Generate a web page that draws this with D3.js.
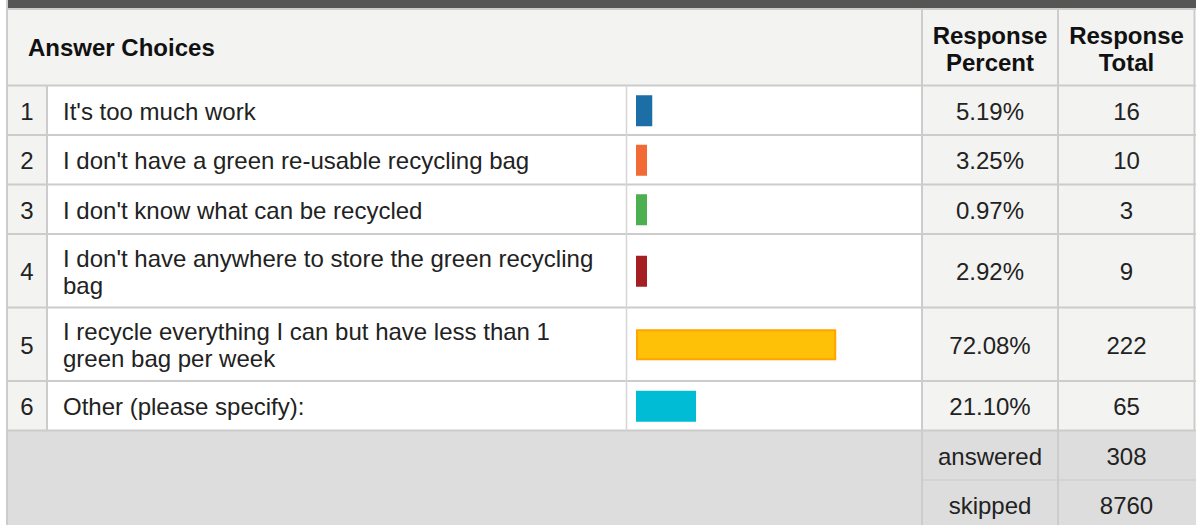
<!DOCTYPE html>
<html>
<head>
<meta charset="utf-8">
<script src="https://cdn.jsdelivr.net/npm/d3@7"></script>
<style>
  body { margin: 0; background: #fff; }
  svg { display: block; font-family: "Liberation Sans", Arial, sans-serif; }
</style>
</head>
<body>
<svg class="survey" width="1196" height="525"></svg>
<script>
var choices = [
  "It's too much work",
  "I don't have a green re-usable recycling bag",
  "I don't know what can be recycled",
  "I don't have anywhere to store the green recycling bag",
  "I recycle everything I can but have less than 1 green bag per week",
  "Other (please specify):"
];
var percents = [5.19, 3.25, 0.97, 2.92, 72.08, 21.10];
var totals = [16, 10, 3, 9, 222, 65];
var barColors = ["#1c6ea7", "#f26a35", "#4caf50", "#a51f22", "#fec107", "#00bcd4"];
var barStrokes = ["#1c6ea7", "#f26a35", "#4caf50", "#a51f22", "#ffa400", "#00bcd4"];
var footerLabels = ["answered", "skipped"];
var footerValues = [308, 8760];

var svg = d3.select("svg.survey"),
    col = {left: 7, num: 47, text: 627, bar: 922, pct: 1058, right: 1195},
    headerTop = 9, headerBottom = 85.5,
    lineH = 27, textMax = 550, base = 9.4,
    grid = "#cccccc", soft = "#f3f3f1", foot = "#dddddd";

var fmtPct = function (v) { return d3.format(".2f")(v) + "%"; };

// wrap labels by measuring words
var probe = svg.append("text").style("font-size", "24px").attr("visibility", "hidden");
var wrapped = choices.map(function (label) {
  var words = label.split(" "), lines = [], cur = "";
  words.forEach(function (w) {
    var test = cur ? cur + " " + w : w;
    probe.text(test);
    if (cur && probe.node().getComputedTextLength() > textMax) { lines.push(cur); cur = w; }
    else cur = test;
  });
  lines.push(cur);
  return lines;
});
probe.remove();

// row positions from line counts
var rows = [], y0 = headerBottom;
wrapped.forEach(function (lines, i) {
  var h = 25.5 + 24 * lines.length;
  rows.push({i: i, top: y0, h: h, lines: lines});
  y0 += h;
});
var footTop = y0, footH = 49.5;

var x = d3.scaleLinear().domain([0, 100]).range([0, 275]);

// top dark strip
svg.append("rect").attr("x", col.left + 1).attr("y", 0).attr("width", 1196 - col.left).attr("height", 8).attr("fill", "#555555");

// header
svg.append("rect").attr("x", col.left).attr("y", headerTop).attr("width", col.right - col.left).attr("height", headerBottom - headerTop).attr("fill", soft);

svg.append("text").attr("x", 28).attr("y", 55.5)
    .style("font-size", "24px").style("font-weight", "bold").attr("fill", "#111").text("Answer Choices");

[["Response", "Percent"], ["Response", "Total"]].forEach(function (lines, k) {
  var cx = k === 0 ? (col.bar + col.pct) / 2 : (col.pct + col.right) / 2;
  var t = svg.append("text").attr("text-anchor", "middle")
      .style("font-size", "24px").style("font-weight", "bold").attr("fill", "#111");
  lines.forEach(function (s, j) {
    t.append("tspan").attr("x", cx).attr("y", 43.5 + j * lineH).text(s);
  });
});

// body rows
var row = svg.selectAll(".row").data(rows).enter().append("g")
    .attr("class", "row")
    .attr("transform", function (d) { return "translate(0," + d.top + ")"; });

row.append("rect").attr("x", col.left).attr("width", col.num - col.left)
    .attr("height", function (d) { return d.h; }).attr("fill", soft);
row.append("rect").attr("x", col.num).attr("width", col.bar - col.num)
    .attr("height", function (d) { return d.h; }).attr("fill", "#fff");
row.append("rect").attr("x", col.bar).attr("width", col.right - col.bar)
    .attr("height", function (d) { return d.h; }).attr("fill", soft);

row.append("text").attr("x", (col.left + col.num) / 2).attr("text-anchor", "middle")
    .attr("y", function (d) { return d.h / 2 + base; })
    .style("font-size", "24px").attr("fill", "#222")
    .text(function (d) { return d.i + 1; });

row.append("text").style("font-size", "24px").attr("fill", "#222")
  .each(function (d) {
    var t = d3.select(this), first = d.h / 2 + base - (d.lines.length - 1) * lineH / 2;
    d.lines.forEach(function (s, j) {
      t.append("tspan").attr("x", 63).attr("y", first + j * lineH).text(s);
    });
  });

row.append("rect")
    .attr("x", col.text + 10)
    .attr("y", function (d) { return d.h / 2 - 14; })
    .attr("width", function (d) { return Math.max(9, x(percents[d.i])); })
    .attr("height", 29)
    .attr("fill", function (d) { return barColors[d.i]; })
    .attr("stroke", function (d) { return barStrokes[d.i]; })
    .attr("stroke-width", 2);

row.append("text").attr("x", (col.bar + col.pct) / 2).attr("text-anchor", "middle")
    .attr("y", function (d) { return d.h / 2 + base; })
    .style("font-size", "24px").attr("fill", "#222")
    .text(function (d) { return fmtPct(percents[d.i]); });

row.append("text").attr("x", (col.pct + col.right) / 2).attr("text-anchor", "middle")
    .attr("y", function (d) { return d.h / 2 + base; })
    .style("font-size", "24px").attr("fill", "#222")
    .text(function (d) { return totals[d.i]; });

// footer
svg.append("rect").attr("x", col.left).attr("y", footTop).attr("width", 1196 - col.left)
    .attr("height", 525 - footTop).attr("fill", foot);

footerLabels.forEach(function (lab, k) {
  var cy = footTop + k * footH + footH / 2 + base;
  svg.append("text").attr("x", (col.bar + col.pct) / 2).attr("y", cy).attr("text-anchor", "middle")
      .style("font-size", "24px").attr("fill", "#222").text(lab);
  svg.append("text").attr("x", (col.pct + col.right) / 2).attr("y", cy).attr("text-anchor", "middle")
      .style("font-size", "24px").attr("fill", "#222").text(footerValues[k]);
});

// grid lines
var hline = function (y, x1, x2, w, c) {
  svg.append("line").attr("x1", x1).attr("x2", x2).attr("y1", y).attr("y2", y)
      .attr("stroke", c || grid).attr("stroke-width", w || 1.5);
};
var vline = function (xp, y1, y2, w, c) {
  svg.append("line").attr("x1", xp).attr("x2", xp).attr("y1", y1).attr("y2", y2)
      .attr("stroke", c || grid).attr("stroke-width", w || 1.5);
};

hline(headerTop, col.left, 1196, 2);
hline(headerBottom, col.left, 1196, 2);
rows.forEach(function (d) { hline(d.top + d.h, col.left, 1196, 2); });
hline(footTop + footH, col.bar, 1196, 1.5, "#cfcfcf");

vline(col.left, 0, 525, 2);
vline(col.num, headerBottom, footTop, 2);
vline(col.text - 0.5, headerBottom, footTop, 1.5, "#d6d6d6");
vline(col.bar, headerTop, 525, 2);
vline(col.pct, headerTop, 525, 2);
vline(col.right - 0.5, headerTop, footTop, 2);
</script>
</body>
</html>
